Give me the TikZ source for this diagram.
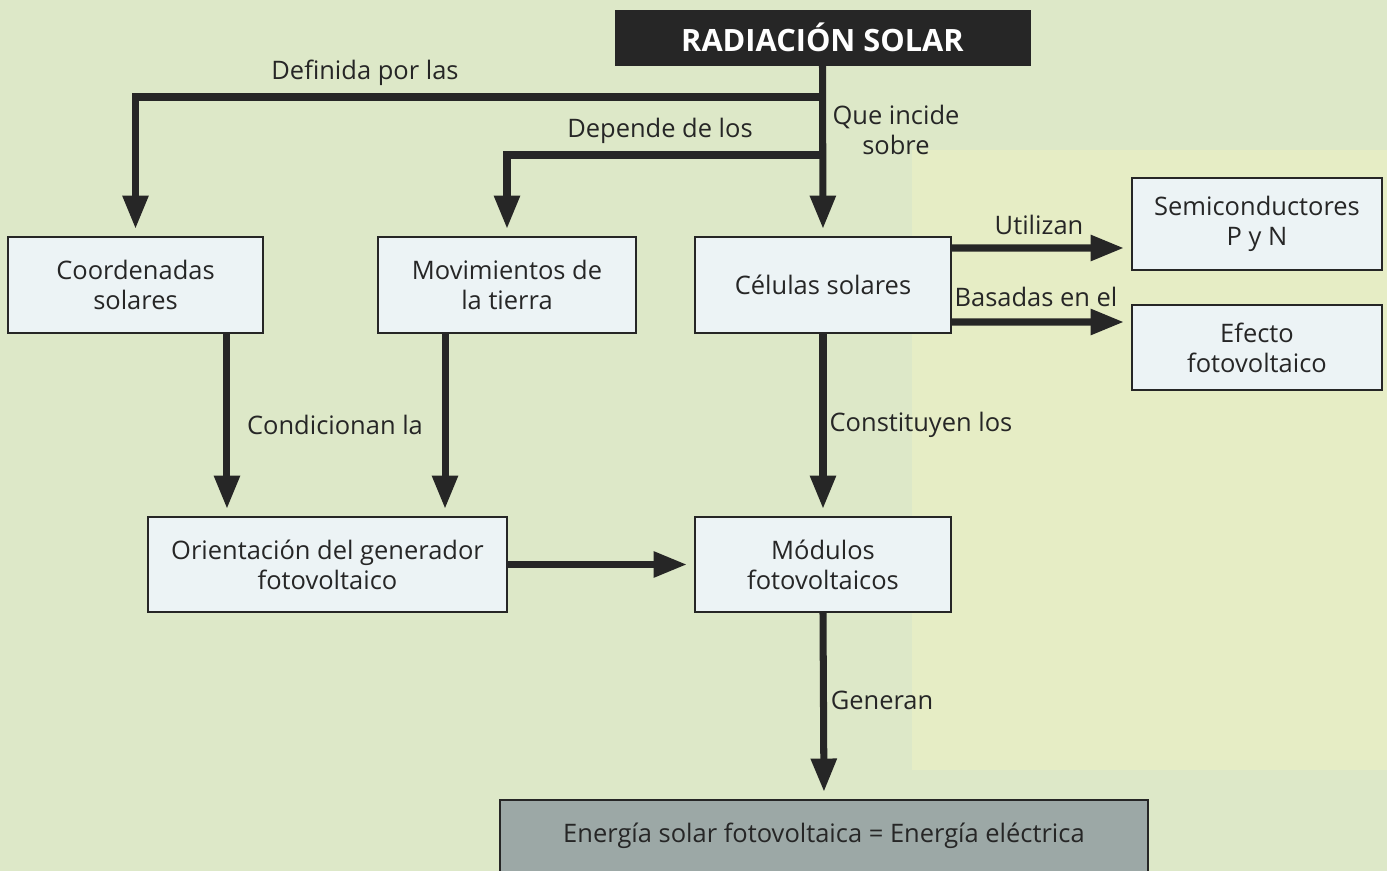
\documentclass[tikz,border=0pt]{standalone}
\usepackage{fontspec}
\setmainfont{Open Sans}
\usepackage{tikz}
\usetikzlibrary{arrows.meta,positioning,calc}

\definecolor{fondo}{RGB}{221,232,200}
\definecolor{fondoder}{RGB}{230,237,197}
\definecolor{caja}{RGB}{236,243,245}
\definecolor{tinta}{RGB}{38,38,38}
\definecolor{resultado}{RGB}{156,168,166}

\tikzset{
  cajas/.style={draw=tinta,line width=1.2pt,fill=caja,align=center,
    minimum height=1.92cm,font=\fontsize{14.5}{17}\selectfont,text=tinta},
  flecha/.style={draw=tinta,line width=4pt,
    -{Triangle[length=19pt,width=14pt]},shorten >=4pt},
  rotulo/.style={font=\fontsize{14.5}{17}\selectfont,text=tinta,align=center}
}

\begin{document}
\begin{tikzpicture}[x=0.02cm,y=-0.02cm]
  \fill[fondo] (0,0) rectangle (1387,871); % 背景（薄い緑）
  \fill[fondoder] (912,150) rectangle (1387,770); % 右側のやや黄色い背景
  \useasboundingbox (0,0) rectangle (1387,871);
  \clip (0,0) rectangle (1387,871);

  % 最上段：見出しの黒い箱
  \node[draw=tinta,fill=tinta,minimum width=8.3cm,minimum height=1.1cm,
    text=white,font=\fontsize{17.5}{19}\selectfont\bfseries] (rad) at (822.5,37.5) {RADIACIÓN SOLAR};

  % 1段目の箱
  \node[cajas,minimum width=5.1cm] (coord) at (135.5,285) {Coordenadas\\solares};
  \node[cajas,minimum width=5.16cm] (mov) at (507,285) {Movimientos de\\la tierra};
  \node[cajas,minimum width=5.12cm] (cel) at (823,285) {Células solares};

  % 右側の2つの箱
  \node[cajas,minimum width=5cm,minimum height=1.84cm] (semi) at (1257,224) {Semiconductores\\P y N};
  \node[cajas,minimum width=5cm,minimum height=1.7cm] (efec) at (1257,347.5) {Efecto\\fotovoltaico};

  % 2段目の箱
  \node[cajas,minimum width=7.18cm,minimum height=1.9cm] (orient) at (327.5,564.5) {Orientación del generador\\fotovoltaico};
  \node[cajas,minimum width=5.12cm,minimum height=1.9cm] (mod) at (823,564.5) {Módulos\\fotovoltaicos};

  % 最下段：結果の灰色の箱（下端は画像の外にはみ出す）
  \node[cajas,fill=resultado,minimum width=12.96cm,minimum height=1.44cm] (energia) at (824,836)
    {Energía solar fotovoltaica = Energía eléctrica};

  % 幹線と分岐点
  \coordinate (j1) at (822.5,97); % 「Definida por las」の分岐点
  \coordinate (j2) at (822.5,155); % 「Depende de los」の分岐点
  \draw[flecha] (rad.south) -- (cel.north);
  \draw[flecha] (j1) -| (coord.north);
  \draw[flecha] (j2) -| (mov.north);

  % 1段目から2段目へ（箱の中心からずらした位置）
  \coordinate (c1) at ([xshift=1.83cm]coord.south);
  \coordinate (c2) at ([xshift=-1.24cm]mov.south);
  \draw[flecha] (c1) -- (c1 |- orient.north);
  \draw[flecha] (c2) -- (c2 |- orient.north);
  \draw[flecha] (cel.south) -- (mod.north);
  \draw[flecha] (orient.east) -- (mod.west);
  \draw[flecha] (mod.south) -- (energia.north);

  % Células solares から右の箱へ
  \draw[flecha] ([yshift=0.74cm]cel.east) -- ([yshift=-0.48cm]semi.west);
  \draw[flecha] ([yshift=-0.74cm]cel.east) -- ([yshift=0.51cm]efec.west);

  % 矢印のラベル
  \node[rotulo] (l1) at (365,73) {Definida por las};
  \node[rotulo] (l2) at (660,131) {Depende de los};
  \node[rotulo] (l3) at (896,130) {Que incide\\sobre};
  \node[rotulo] (l4) at (1039,225) {Utilizan};
  \node[rotulo] (l5) at (1036,297) {Basadas en el};
  \node[rotulo] (l6) at (335,425) {Condicionan la};
  \node[rotulo] (l7) at (921,425) {Constituyen los};
  \node[rotulo] (l8) at (882,700) {Generan};
\end{tikzpicture}
\end{document}
